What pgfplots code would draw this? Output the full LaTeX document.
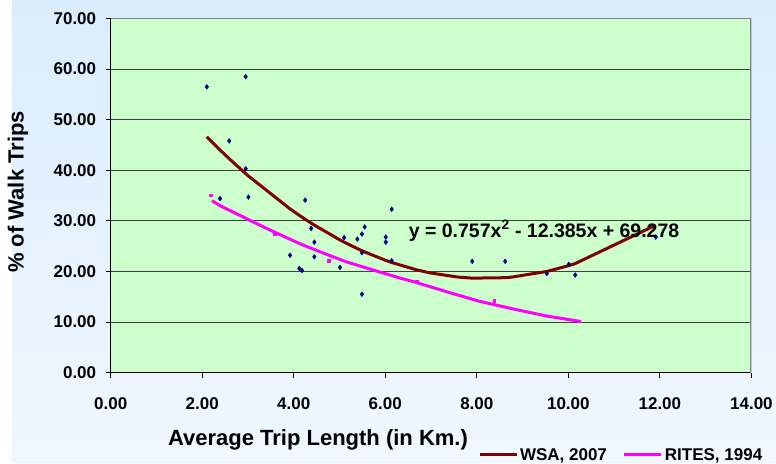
\documentclass[border=0pt]{standalone}
\usepackage{fontspec}
\setmainfont{Liberation Sans}
\usepackage{pgfplots}
\pgfplotsset{compat=1.18}

\definecolor{plotgreen}{RGB}{204,255,204}
\definecolor{bgtop}{RGB}{218,237,255}
\definecolor{bgbot}{RGB}{240,247,255}
\definecolor{wsa}{RGB}{128,0,0}
\definecolor{rites}{RGB}{255,0,255}
\definecolor{pts}{RGB}{0,0,128}
\definecolor{frame}{RGB}{128,128,128}

\begin{document}
\begin{tikzpicture}[x=1pt,y=1pt]
\fill[white] (0,0) rectangle (776,463);
\shade[top color=bgtop, bottom color=bgbot] (12,0) rectangle (776,463);
\begin{axis}[
  at={(110.7pt,90.3pt)}, anchor=south west,
  scale only axis, width=640.8pt, height=354.2pt,
  xmin=0, xmax=14, ymin=0, ymax=70,
  xtick={0,2,...,14}, ytick={0,10,...,70},
  axis x line*=bottom, axis y line*=left,
  axis line style={black, line width=1.3pt, -},
  axis background/.style={fill=plotgreen},
  ymajorgrids, grid style={black!75, line width=1pt},
  tick align=outside, major tick length=5pt,
  tick style={black, line width=1pt},
  ticklabel style={font=\fontsize{17}{17}\selectfont\bfseries},
  xticklabel style={yshift=-16pt},
  yticklabel style={xshift=-6pt},
  /pgf/number format/fixed, /pgf/number format/fixed zerofill,
  /pgf/number format/precision=2, /pgf/number format/assume math mode=true,
  legend style={at={(0.573,-0.2324)}, anchor=west, legend columns=2,
    draw=none, fill=none, inner sep=0pt,
    font=\fontsize{17}{17}\selectfont\bfseries,
    /tikz/every even column/.append style={column sep=14pt}},
  legend image code/.code={\draw[#1, mark=none, line width=3pt] (0pt,0pt) -- (37pt,0pt);},
]
% WSA 2007 fitted curve
\addplot[wsa, line width=3pt, line join=round] coordinates {
  (2.10,46.61) (2.39,44.00) (2.59,42.28) (2.95,39.33) (3.01,38.86)
  (3.92,32.36) (4.12,31.10) (4.18,30.74) (4.25,30.32) (4.38,29.56)
  (4.45,29.16) (5.01,26.23) (5.10,25.80) (5.39,24.52) (5.49,24.10)
  (5.55,23.86) (6.01,22.19) (6.14,21.77) (6.68,20.33) (6.97,19.73)
  (7.59,18.89) (7.90,18.68) (8.62,18.77) (8.76,18.88) (9.53,20.00)
  (10.01,21.16) (10.15,21.56) (11.91,29.15)};
\addlegendentry{WSA, 2007}

% RITES 1994 curve
\addplot[rites, line width=3pt, line join=round] coordinates {
  (2.21,34.0) (2.39,33.0) (2.82,31.1) (3.11,29.8) (3.55,27.9)
  (4.13,25.5) (4.57,23.9) (5.15,21.9) (5.73,20.3) (6.32,18.7)
  (6.61,18.0) (7.34,16.0) (8.06,14.1) (8.79,12.6) (9.52,11.2)
  (10.28,10.1)};
\addlegendentry{RITES, 1994}

% RITES points
\addplot[only marks, forget plot, mark=square*, mark size=1.3pt, rites] coordinates {
  (2.18,35.1) (3.58,27.4) (4.76,22.1) (6.68,18.0) (8.38,14.2)};

% observed points
\addplot[only marks, forget plot, mark=diamond*, mark size=2.4pt, pts] coordinates {
  (2.10,56.5) (2.95,58.5) (2.59,45.8) (2.95,40.3) (2.39,34.4)
  (3.01,34.7) (4.25,34.1) (4.38,28.5) (4.45,25.8) (3.92,23.2)
  (4.45,22.9) (4.12,20.6) (4.18,20.2) (5.01,20.8) (5.10,26.7)
  (5.39,26.4) (5.49,27.4) (5.55,28.8) (5.49,23.7) (5.49,15.5)
  (6.01,26.8) (6.01,25.8) (6.14,32.3) (6.14,22.1) (7.90,22.0)
  (8.62,22.0) (9.53,19.6) (10.01,21.4) (10.15,19.3) (11.91,26.8)};

\draw[frame, line width=2pt] (rel axis cs:0,1) -- (rel axis cs:1,1) -- (rel axis cs:1,0);
\node[anchor=west, inner sep=0pt, font=\fontsize{19.5}{19.5}\selectfont\bfseries]
  at (axis cs:6.51,28.0) {y = 0.757x\textsuperscript{2} - 12.385x + 69.278};
\end{axis}
\node[font=\fontsize{22}{22}\selectfont\bfseries] at (318,23) {Average Trip Length (in Km.)};
\node[rotate=90, font=\fontsize{22}{22}\selectfont\bfseries] at (18,271) {\% of Walk Trips};
\end{tikzpicture}
\end{document}
